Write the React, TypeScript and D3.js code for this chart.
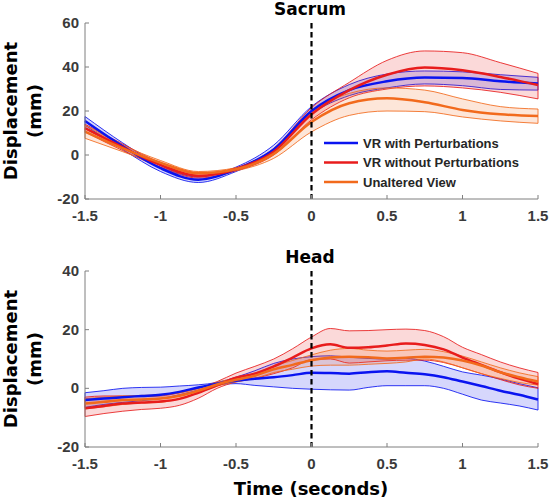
import React from "react";
import * as d3 from "d3";

// ---------- Data ----------
const sacrumX = [-1.5, -1.25, -1.0, -0.75, -0.5, -0.25, 0, 0.25, 0.5, 0.75, 1.0, 1.25, 1.5];
const sacrumBlueMean = [15.5, 4, -6, -11.2, -6.5, 2.5, 20, 29.5, 33.5, 35.2, 35, 33.5, 32.5];
const sacrumBlueUpper = [17.5, 5.5, -4.8, -10, -5.5, 4.5, 22, 32, 36.8, 38.2, 37.8, 36.5, 35.3];
const sacrumBlueLower = [13.5, 2.5, -7.5, -12.5, -7.5, 1, 18.5, 27, 30.5, 32.3, 31.5, 29.8, 29.5];
const sacrumRedMean = [12.2, 3.5, -4.5, -9.5, -6.5, 1.5, 18.5, 29.5, 36.5, 39.8, 38.5, 35.5, 31.8];
const sacrumRedUpper = [14, 5, -3.5, -8.5, -5.8, 3, 21.5, 33, 43, 47.3, 46.5, 42, 37.1];
const sacrumRedLower = [10.5, 2, -5.5, -10.5, -7.2, 0, 16, 26, 30, 31.4, 30.5, 28.5, 25.5];
const sacrumOrangeMean = [10.6, 3, -3.5, -8.3, -6.5, 0.5, 15, 23.5, 25.8, 24, 20.5, 18.5, 17.7];
const sacrumOrangeUpper = [13.6, 4.5, -2.5, -7.5, -5.8, 2, 19.5, 28, 30.5, 29.5, 25.5, 22, 20.9];
const sacrumOrangeLower = [7.6, 1.5, -4.5, -9.2, -7.2, -1.5, 10.5, 18, 20, 19.7, 17.3, 15.5, 14.4];

const headX = [-1.5, -1.375, -1.25, -1.125, -1.0, -0.875, -0.75, -0.625, -0.5, -0.375, -0.25, -0.125, 0,
  0.125, 0.25, 0.375, 0.5, 0.625, 0.75, 0.875, 1.0, 1.125, 1.25, 1.375, 1.5];
const headBlueMean = [-4, -3.5, -3, -2.6, -2.2, -1.2, 0.3, 1.6, 2.6, 3.3, 3.8, 4.5, 5.3, 5.2, 5.0, 5.5, 5.8, 5.3, 4.8, 3.8, 2.3, 0.8, -0.8, -2.2, -3.8];
const headBlueUpper = [-1.5, -0.8, 0, 0.3, 0.4, 0.8, 1.2, 2.0, 3.8, 6.0, 8.5, 10, 10.8, 11.1, 10.6, 10.2, 10.0, 10.2, 9.3, 7.5, 5.6, 4.5, 3.2, 1.6, 0.2];
const headBlueLower = [-6.5, -5.5, -4.8, -4.2, -3.5, -2.2, -0.6, 1.2, 1.6, 1.0, 0.5, 0, -0.3, -0.5, -0.6, 0.3, 0.9, 0.9, 0.9, 0, -2.0, -4.0, -5.0, -6.0, -7.4];
const headRedMean = [-6.8, -6.0, -5.2, -4.8, -4.5, -3.6, -1.5, 1.0, 3.6, 5.0, 7.5, 10.5, 13.6, 15.0, 13.8, 14.0, 14.6, 15.3, 14.8, 13.3, 10.5, 8.0, 5.5, 3.3, 1.5];
const headRedUpper = [-3.0, -2.6, -2.6, -2.8, -2.6, -1.5, 0, 2.3, 5.2, 7.5, 10.0, 13.5, 17.5, 20.4, 19.6, 19.7, 20.0, 20.2, 19.7, 17.6, 14.0, 11.5, 9.0, 7.0, 5.4];
const headRedLower = [-9.6, -8.6, -7.8, -7.2, -6.8, -5.8, -3.4, 0, 2.2, 3.4, 5.0, 7.0, 9.8, 10.0, 8.6, 9.0, 9.4, 9.6, 9.6, 8.8, 7.0, 5.0, 3.0, 1.2, 0];
const headOrangeMean = [-5.2, -4.6, -4.0, -3.8, -3.5, -2.5, -0.8, 1.3, 2.9, 4.3, 6.5, 8.0, 9.6, 10.5, 10.8, 10.6, 10.2, 10.4, 10.8, 10.5, 9.5, 7.8, 5.5, 3.8, 2.3];
const headOrangeUpper = [-3.5, -3.0, -2.6, -2.4, -2.2, -1.6, 0, 2.0, 3.6, 5.2, 7.6, 9.5, 11.4, 13.0, 13.6, 13.0, 12.7, 13.0, 13.3, 12.5, 11.0, 9.0, 7.0, 5.3, 4.0];
const headOrangeLower = [-7.0, -6.3, -5.5, -5.0, -4.8, -3.5, -1.6, 0.8, 2.2, 3.4, 5.4, 6.5, 7.6, 7.9, 7.9, 8.2, 8.5, 9.0, 10.0, 9.0, 7.0, 5.0, 3.4, 2.0, 1.1];

const seriesNames = ["VR with Perturbations", "VR without Perturbations", "Unaltered View"];
const seriesColors = ["#0a14f0", "#e81c1c", "#f26a1c"];
const xTicks = [-1.5, -1, -0.5, 0, 0.5, 1, 1.5];
const sacrumYTicks = [-20, 0, 20, 40, 60];
const headYTicks = [-20, 0, 20, 40];

type Series = { mean: number[]; upper: number[]; lower: number[] };

const sacrumSeries: Series[] = [
  { mean: sacrumBlueMean, upper: sacrumBlueUpper, lower: sacrumBlueLower },
  { mean: sacrumRedMean, upper: sacrumRedUpper, lower: sacrumRedLower },
  { mean: sacrumOrangeMean, upper: sacrumOrangeUpper, lower: sacrumOrangeLower },
];
const headSeries: Series[] = [
  { mean: headBlueMean, upper: headBlueUpper, lower: headBlueLower },
  { mean: headRedMean, upper: headRedUpper, lower: headRedLower },
  { mean: headOrangeMean, upper: headOrangeUpper, lower: headOrangeLower },
];

const W = 550;
const H = 499;
const LEFT = 85;
const RIGHT = 538;
const tickFont = "'Liberation Sans', Arial, sans-serif";
const labelFont = "'DejaVu Sans', sans-serif";

function Panel(props: {
  top: number; bottom: number; yDomain: [number, number]; yTicks: number[];
  xs: number[]; series: Series[]; title: string; titleY: number; showLegend: boolean;
}) {
  const { top, bottom, yDomain, yTicks, xs, series, title, titleY, showLegend } = props;
  const x = d3.scaleLinear().domain([-1.5, 1.5]).range([LEFT, RIGHT]);
  const y = d3.scaleLinear().domain(yDomain).range([bottom, top]);
  const curve = d3.curveMonotoneX;
  const line = d3.line<[number, number]>().x((d) => x(d[0])).y((d) => y(d[1])).curve(curve);
  const axisColor = "#7f7f7f";
  const midY = (top + bottom) / 2;
  return (
    <g>
      {series.map((s, k) => {
        const a = d3
          .area<number>()
          .x((_, i) => x(xs[i]))
          .y0((_, i) => y(s.lower[i]))
          .y1((_, i) => y(s.upper[i]))
          .curve(curve);
        const col = seriesColors[k];
        const n = xs.length - 1;
        return (
          <g key={k}>
            <path d={a(s.mean) || ""} fill={col} fillOpacity={0.17} stroke="none" />
            <path d={line(xs.map((v, i) => [v, s.upper[i]])) || ""} fill="none" stroke={col} strokeWidth={1} strokeOpacity={0.85} />
            <path d={line(xs.map((v, i) => [v, s.lower[i]])) || ""} fill="none" stroke={col} strokeWidth={1} strokeOpacity={0.85} />
            <line x1={x(xs[0])} x2={x(xs[0])} y1={y(s.lower[0])} y2={y(s.upper[0])} stroke={col} strokeWidth={1} strokeOpacity={0.85} />
            <line x1={x(xs[n])} x2={x(xs[n])} y1={y(s.lower[n])} y2={y(s.upper[n])} stroke={col} strokeWidth={1} strokeOpacity={0.85} />
          </g>
        );
      })}
      {series.map((s, k) => (
        <path key={"m" + k} d={line(xs.map((v, i) => [v, s.mean[i]])) || ""} fill="none" stroke={seriesColors[k]} strokeWidth={2.5} />
      ))}
      <line x1={x(0)} x2={x(0)} y1={top} y2={bottom} stroke="#000" strokeWidth={2.2} strokeDasharray="5.5,3.5" />
      <line x1={LEFT} x2={RIGHT} y1={bottom} y2={bottom} stroke={axisColor} strokeWidth={1} />
      <line x1={LEFT} x2={LEFT} y1={top} y2={bottom} stroke={axisColor} strokeWidth={1} />
      {xTicks.map((t) => (
        <g key={"xt" + t}>
          <line x1={x(t)} x2={x(t)} y1={bottom} y2={bottom - 4} stroke={axisColor} strokeWidth={1} />
          <text x={x(t)} y={bottom + 22} textAnchor="middle" fontFamily={tickFont} fontWeight="bold" fontSize={15} fill="#3a3a3a">
            {t}
          </text>
        </g>
      ))}
      {yTicks.map((t) => (
        <g key={"yt" + t}>
          <line x1={LEFT} x2={LEFT + 4} y1={y(t)} y2={y(t)} stroke={axisColor} strokeWidth={1} />
          <text x={LEFT - 6} y={y(t) + 5} textAnchor="end" fontFamily={tickFont} fontWeight="bold" fontSize={15} fill="#3a3a3a">
            {t}
          </text>
        </g>
      ))}
      <text x={310} y={titleY} textAnchor="middle" fontFamily={labelFont} fontWeight="bold" fontSize={17} fill="#000">
        {title}
      </text>
      <text transform={`translate(17,${midY}) rotate(-90)`} textAnchor="middle" fontFamily={labelFont} fontWeight="bold" fontSize={18} fill="#000">
        Displacement
      </text>
      <text transform={`translate(41,${midY}) rotate(-90)`} textAnchor="middle" fontFamily={labelFont} fontWeight="bold" fontSize={18} fill="#000">
        (mm)
      </text>
      {showLegend &&
        seriesNames.map((n, k) => (
          <g key={"lg" + k}>
            <line x1={324} x2={358} y1={143 + k * 19.5} y2={143 + k * 19.5} stroke={seriesColors[k]} strokeWidth={2.5} />
            <text x={363} y={143 + k * 19.5 + 4.5} fontFamily={tickFont} fontWeight="bold" fontSize={13} fill="#262626">
              {n}
            </text>
          </g>
        ))}
    </g>
  );
}

export default function App() {
  return (
    <svg width={W} height={H} style={{ position: "absolute", left: 0, top: 0, background: "#fff" }}>
      <rect width={W} height={H} fill="#fff" />
      <Panel top={23} bottom={199} yDomain={[-20, 60]} yTicks={sacrumYTicks} xs={sacrumX} series={sacrumSeries} title="Sacrum" titleY={15} showLegend={true} />
      <Panel top={271} bottom={447} yDomain={[-20, 40]} yTicks={headYTicks} xs={headX} series={headSeries} title="Head" titleY={263} showLegend={false} />
      <text x={311} y={495} textAnchor="middle" fontFamily={labelFont} fontWeight="bold" fontSize={18} fill="#000">
        Time (seconds)
      </text>
    </svg>
  );
}
